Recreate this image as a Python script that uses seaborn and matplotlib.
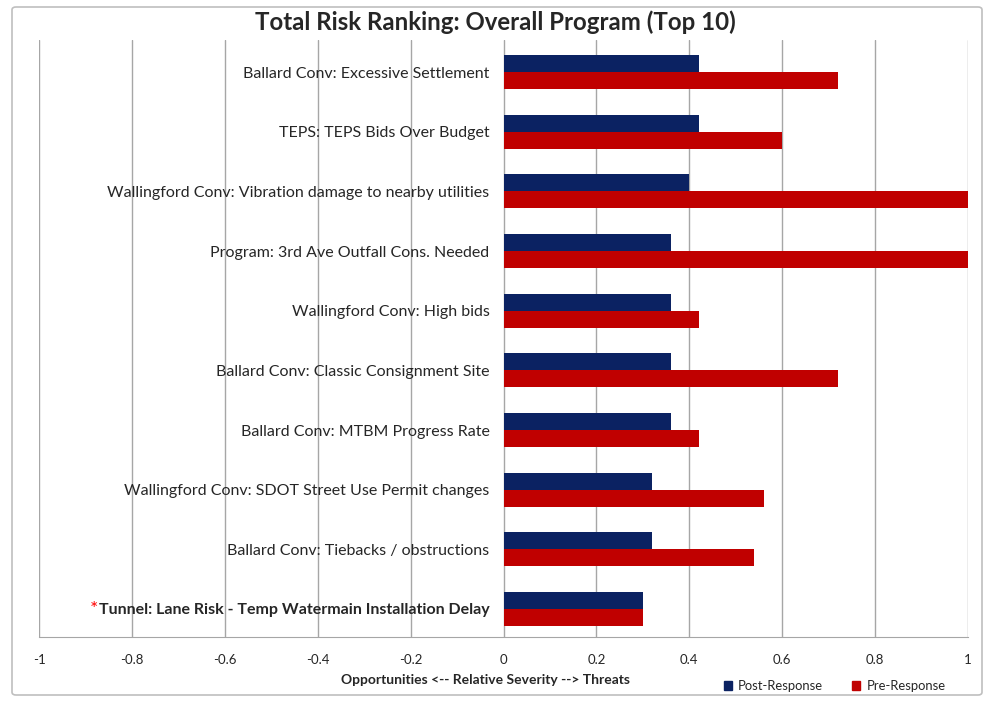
import pandas as pd
import seaborn as sns
import matplotlib.pyplot as plt
from matplotlib.patches import FancyBboxPatch, Patch

#-- Chart data. --#
risks = [
    "Ballard Conv: Excessive Settlement",
    "TEPS: TEPS Bids Over Budget",
    "Wallingford Conv: Vibration damage to nearby utilities",
    "Program: 3rd Ave Outfall Cons. Needed",
    "Wallingford Conv: High bids",
    "Ballard Conv: Classic Consignment Site",
    "Ballard Conv: MTBM Progress Rate",
    "Wallingford Conv: SDOT Street Use Permit changes",
    "Ballard Conv: Tiebacks / obstructions",
    "Tunnel: Lane Risk - Temp Watermain Installation Delay",
]
post_response = [0.42, 0.42, 0.40, 0.36, 0.36, 0.36, 0.36, 0.32, 0.32, 0.30]
pre_response = [0.72, 0.60, 1.00, 1.00, 0.42, 0.72, 0.42, 0.56, 0.54, 0.30]
series_names = ["Post-Response", "Pre-Response"]
x_ticks = [-1, -0.8, -0.6, -0.4, -0.2, 0, 0.2, 0.4, 0.6, 0.8, 1]

df = pd.DataFrame({
    "risk": risks * 2,
    "value": post_response + pre_response,
    "series": [series_names[0]] * len(risks) + [series_names[1]] * len(risks),
})

navy = "#0B2262"
red = "#C00000"
grid_col = "#A6A6A6"

sns.set_style("white")
plt.rcParams["font.family"] = ["Lato", "DejaVu Sans"]

fig = plt.figure(figsize=(9.9, 7.03), dpi=100)
ax = fig.add_axes([39 / 990, 1 - 637 / 703, (968 - 39) / 990, (637 - 40) / 703])

# outer frame of the chart
frame = FancyBboxPatch((12 / 990, 8 / 703), 970 / 990, 688 / 703,
                       boxstyle="round,pad=0,rounding_size=0.004",
                       transform=fig.transFigure, facecolor="none",
                       edgecolor="#BFBFBF", lw=1.2, zorder=0)
fig.patches.append(frame)

sns.barplot(data=df, y="risk", x="value", hue="series", orient="h",
            palette=[navy, red], width=0.57, gap=0, ax=ax,
            saturation=1, legend=False, linewidth=0, zorder=3)

ax.set_xlim(-1, 1)
ax.set_ylim(9.47, -0.54)
ax.set_xticks(x_ticks)
ax.set_xticklabels([f"{t:g}" for t in x_ticks], fontsize=9.5)
ax.xaxis.grid(True, color=grid_col, lw=1)
ax.yaxis.grid(False)
ax.set_axisbelow(True)

for s in ["top", "right"]:
    ax.spines[s].set_visible(False)
ax.spines["bottom"].set_color(grid_col)
ax.spines["left"].set_position(("data", 0))
ax.spines["left"].set_visible(False)
ax.tick_params(axis="y", length=0, pad=10, labelsize=11.5)
ax.tick_params(axis="x", length=0, pad=12)

ax.set_ylabel("")
ax.set_xlabel("Opportunities <-- Relative Severity --> Threats",
              fontsize=10, fontweight="bold")
ax.xaxis.set_label_coords((485 - 39) / 929, -0.062)

last = ax.get_yticklabels()[-1]
last.set_fontweight("bold")

fig.suptitle("Total Risk Ranking: Overall Program (Top 10)",
             fontsize=17.3, fontweight="bold", y=1 - 22 / 703, va="center")

handles = [Patch(color=navy, label=series_names[0]),
           Patch(color=red, label=series_names[1])]
fig.legend(handles=handles, loc="center left", ncol=2, frameon=False,
           bbox_to_anchor=(712 / 990, 1 - 686 / 703), fontsize=9.4,
           handlelength=0.6, handleheight=0.6, handletextpad=0.5,
           columnspacing=2.2)

# red asterisk before the bold label
fig.canvas.draw()
bb = last.get_window_extent().transformed(fig.transFigure.inverted())
fig.text(bb.x0 - 0.001, bb.y1 + 0.004, "*", color="#FF0000",
         fontsize=14, ha="right", va="top")

fig.savefig("out.png", dpi=100)
